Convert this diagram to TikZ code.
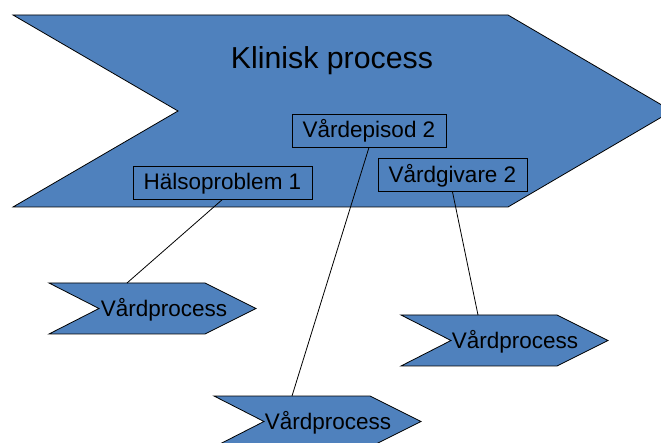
\documentclass[tikz,border=0pt]{standalone}
\usepackage{fontspec}
\setmainfont{Liberation Sans}
\definecolor{procblue}{RGB}{79,129,189}
\begin{document}
\begin{tikzpicture}[x=1pt,y=-1pt,
  chevron/.style={fill=procblue, draw=black, line width=0.8pt, line join=miter},
  labelbox/.style={draw=black, fill=procblue, line width=0.8pt, inner sep=0pt,
    minimum height=33pt, text height=15pt, text depth=0pt,
    font=\fontsize{22.5}{24}\selectfont},
  proclabel/.style={inner sep=0pt, text height=16pt, text depth=0pt,
    font=\fontsize{22.5}{24}\selectfont},
  link/.style={draw=black, line width=0.8pt}]
\useasboundingbox (0,0) rectangle (661,443);
\clip (0,0) rectangle (661,443);

% main process arrow
\draw[chevron] (13,15) -- (508,15) -- (672,111) -- (508,207) -- (13,207) -- (178,111) -- cycle;
\node[inner sep=0pt, anchor=base, font=\fontsize{30.3}{32}\selectfont] (title) at (332,69) {Klinisk process};

% labelled aspects of the clinical process
\node[labelbox, minimum width=154pt] (episod) at (369,130.5) {Vårdepisod 2};
\node[labelbox, minimum width=149pt] (givare) at (452.5,175) {Vårdgivare 2};
\node[labelbox, minimum width=179pt] (halsa) at (222.5,182.5) {Hälsoproblem 1};

% sub-process arrows
\draw[chevron] (49,283) -- ++(156,0) -- ++(51,25.5) -- ++(-51,25.5) -- ++(-156,0) -- ++(50,-25.5) -- cycle;
\draw[chevron] (401,315) -- ++(156,0) -- ++(51,25.5) -- ++(-51,25.5) -- ++(-156,0) -- ++(50,-25.5) -- cycle;
\draw[chevron] (214,396) -- ++(156,0) -- ++(51,25.5) -- ++(-51,25.5) -- ++(-156,0) -- ++(50,-25.5) -- cycle;
\node[proclabel] (proc1) at (164,308.5) {Vårdprocess};
\node[proclabel] (proc2) at (515,340.5) {Vårdprocess};
\node[proclabel] (proc3) at (328,421.5) {Vårdprocess};

% attachment points on the sub-process arrows
\coordinate (top1) at (127,283);
\coordinate (top2) at (478,315);
\coordinate (top3) at (292,396);

% connectors
\draw[link] (halsa.south) -- (top1);
\draw[link] (episod.south) -- (top3);
\draw[link] (givare.south) -- (top2);
\end{tikzpicture}
\end{document}
